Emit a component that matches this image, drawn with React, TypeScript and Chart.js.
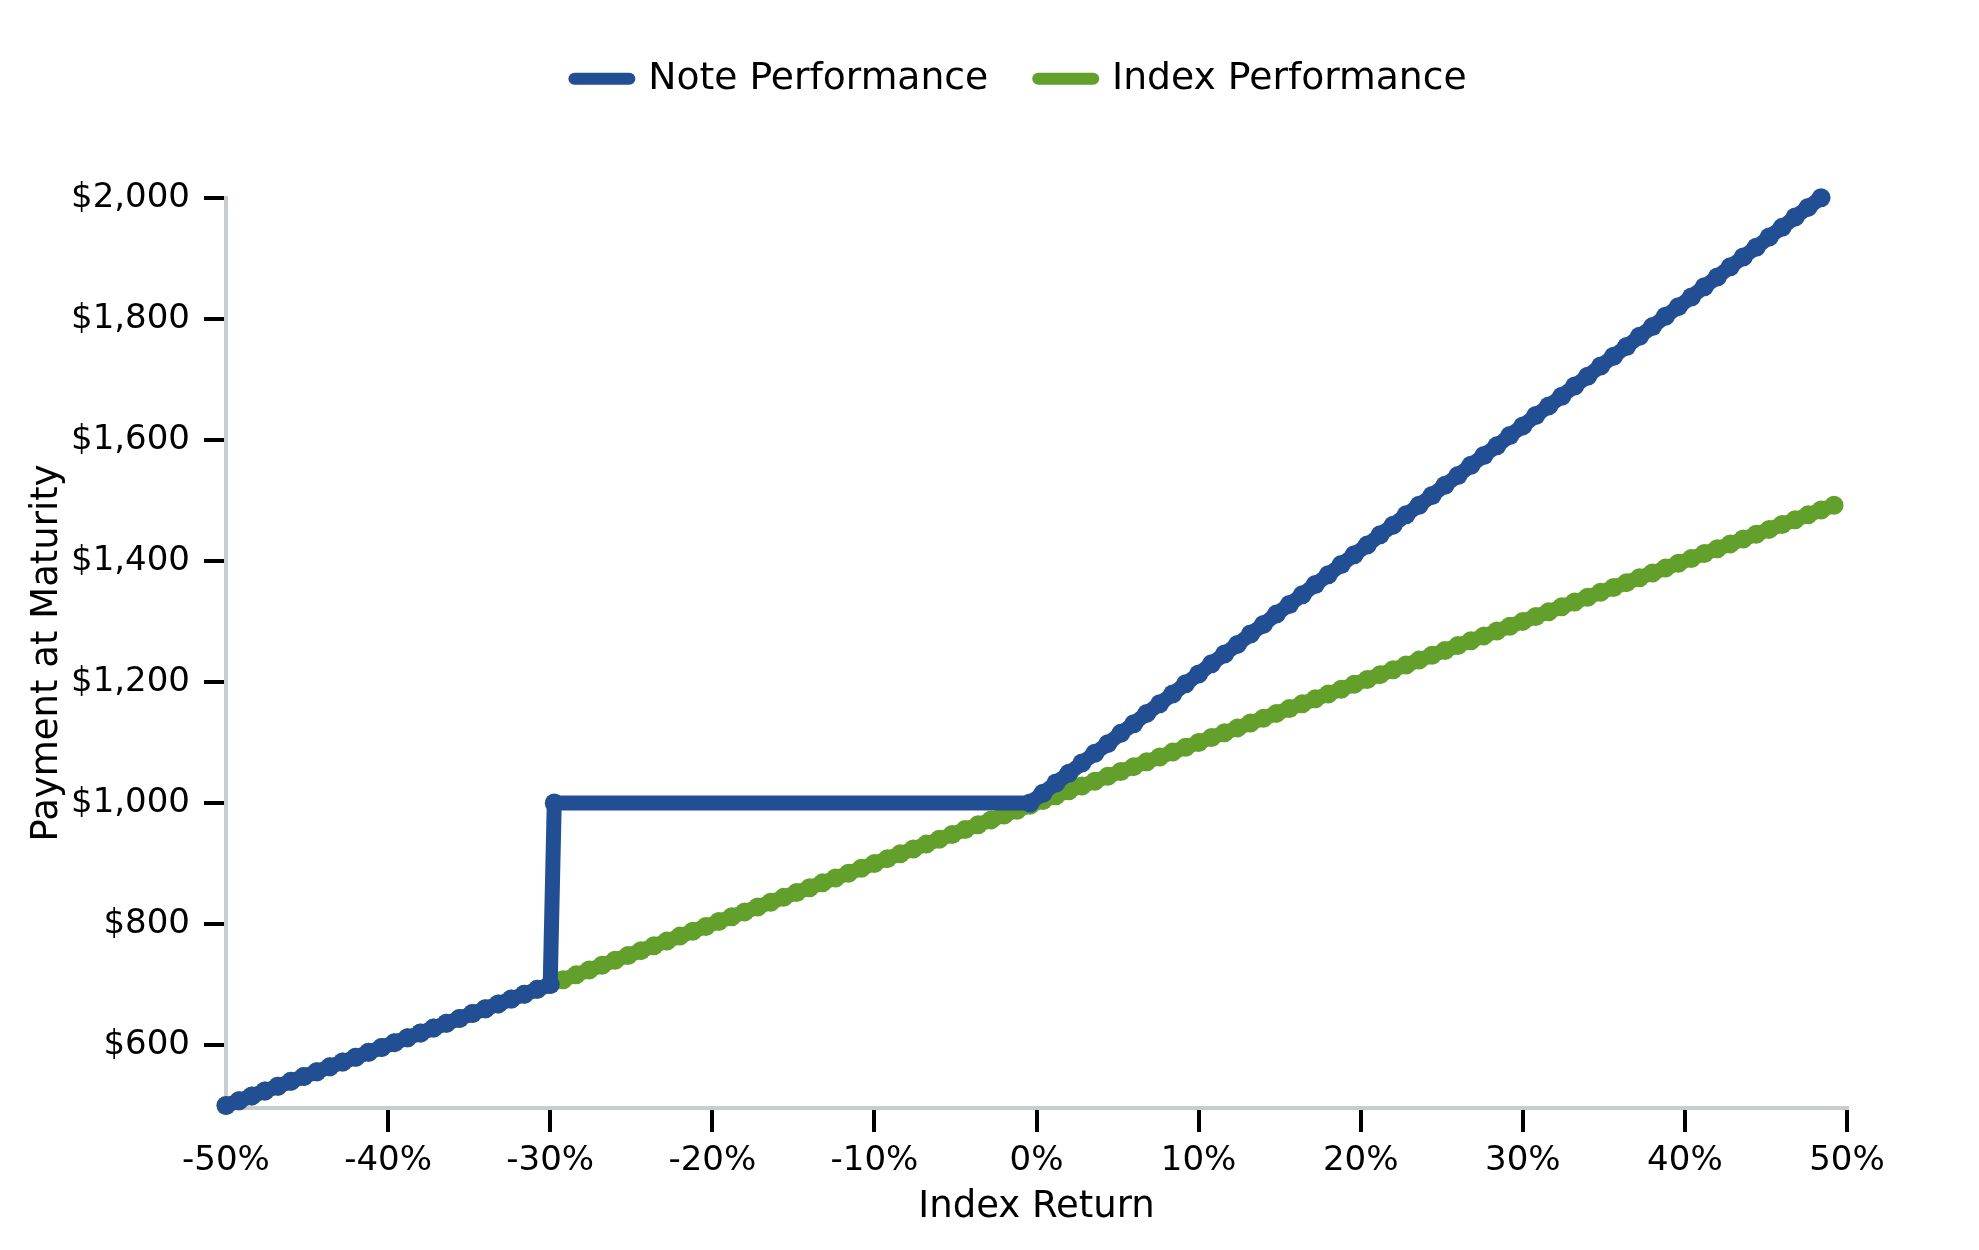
import React, { useEffect, useRef } from 'react';
import { Chart, registerables } from 'chart.js';

Chart.register(...registerables);

// Index return (%) at each plotted point
const indexReturns = [
  -50, -49.2, -48.4, -47.6, -46.8, -46, -45.2, -44.4, -43.6, -42.8,
  -42, -41.2, -40.4, -39.6, -38.8, -38, -37.2, -36.4, -35.6, -34.8,
  -34, -33.2, -32.4, -31.6, -30.8, -30, -29.2, -28.4, -27.6, -26.8,
  -26, -25.2, -24.4, -23.6, -22.8, -22, -21.2, -20.4, -19.6, -18.8,
  -18, -17.2, -16.4, -15.6, -14.8, -14, -13.2, -12.4, -11.6, -10.8,
  -10, -9.2, -8.4, -7.6, -6.8, -6, -5.2, -4.4, -3.6, -2.8,
  -2, -1.2, -0.4, 0.4, 1.2, 2, 2.8, 3.6, 4.4, 5.2,
  6, 6.8, 7.6, 8.4, 9.2, 10, 10.8, 11.6, 12.4, 13.2,
  14, 14.8, 15.6, 16.4, 17.2, 18, 18.8, 19.6, 20.4, 21.2,
  22, 22.8, 23.6, 24.4, 25.2, 26, 26.8, 27.6, 28.4, 29.2,
  30, 30.8, 31.6, 32.4, 33.2, 34, 34.8, 35.6, 36.4, 37.2,
  38, 38.8, 39.6, 40.4, 41.2, 42, 42.8, 43.6, 44.4, 45.2,
  46, 46.8, 47.6, 48.4, 49.2,
];

const indexPayments = [
  500, 508, 516, 524, 532, 540, 548, 556, 564, 572,
  580, 588, 596, 604, 612, 620, 628, 636, 644, 652,
  660, 668, 676, 684, 692, 700, 708, 716, 724, 732,
  740, 748, 756, 764, 772, 780, 788, 796, 804, 812,
  820, 828, 836, 844, 852, 860, 868, 876, 884, 892,
  900, 908, 916, 924, 932, 940, 948, 956, 964, 972,
  980, 988, 996, 1004, 1012, 1020, 1028, 1036, 1044, 1052,
  1060, 1068, 1076, 1084, 1092, 1100, 1108, 1116, 1124, 1132,
  1140, 1148, 1156, 1164, 1172, 1180, 1188, 1196, 1204, 1212,
  1220, 1228, 1236, 1244, 1252, 1260, 1268, 1276, 1284, 1292,
  1300, 1308, 1316, 1324, 1332, 1340, 1348, 1356, 1364, 1372,
  1380, 1388, 1396, 1404, 1412, 1420, 1428, 1436, 1444, 1452,
  1460, 1468, 1476, 1484, 1492,
];

// Note: follows the index down to -30%, then a flat $1,000 run up to ~0%
const noteReturns = [
  -50, -49.2, -48.4, -47.6, -46.8, -46, -45.2, -44.4, -43.6, -42.8,
  -42, -41.2, -40.4, -39.6, -38.8, -38, -37.2, -36.4, -35.6, -34.8,
  -34, -33.2, -32.4, -31.6, -30.8, -30, -29.75, -0.4,
  0.4, 1.2, 2, 2.8, 3.6, 4.4, 5.2,
  6, 6.8, 7.6, 8.4, 9.2, 10, 10.8, 11.6, 12.4, 13.2,
  14, 14.8, 15.6, 16.4, 17.2, 18, 18.8, 19.6, 20.4, 21.2,
  22, 22.8, 23.6, 24.4, 25.2, 26, 26.8, 27.6, 28.4, 29.2,
  30, 30.8, 31.6, 32.4, 33.2, 34, 34.8, 35.6, 36.4, 37.2,
  38, 38.8, 39.6, 40.4, 41.2, 42, 42.8, 43.6, 44.4, 45.2,
  46, 46.8, 47.6, 48.4,
];

const notePayments = [
  500, 508, 516, 524, 532, 540, 548, 556, 564, 572,
  580, 588, 596, 604, 612, 620, 628, 636, 644, 652,
  660, 668, 676, 684, 692, 700, 1000, 1000,
  1016, 1033, 1049, 1066, 1082, 1098, 1115,
  1131, 1148, 1164, 1180, 1197, 1213, 1230, 1246, 1262, 1279,
  1295, 1312, 1328, 1344, 1361, 1377, 1394, 1410, 1426, 1443,
  1459, 1476, 1492, 1508, 1525, 1541, 1558, 1574, 1590, 1607,
  1623, 1640, 1656, 1672, 1689, 1705, 1722, 1738, 1754, 1771,
  1787, 1804, 1820, 1836, 1853, 1869, 1886, 1902, 1918, 1935,
  1951, 1968, 1984, 2000,
];

const seriesNames = ['Note Performance', 'Index Performance'];
const seriesColors = ['#224f93', '#62a02b'];

const FONT = 'DejaVu Sans';

const App: React.FC = () => {
  const canvasRef = useRef<HTMLCanvasElement | null>(null);
  const chartRef = useRef<Chart | null>(null);

  useEffect(() => {
    if (!canvasRef.current) return;

    const lineStyle = (color: string) => ({
      borderColor: color,
      backgroundColor: color,
      borderWidth: 15,
      borderJoinStyle: 'round' as const,
      borderCapStyle: 'round' as const,
      pointRadius: 9.5,
      pointBorderWidth: 0,
      pointBackgroundColor: color,
      pointHoverRadius: 9.5,
      tension: 0,
      clip: false as const,
    });

    // extra room under the legend, and nudge it to where the reference has it
    const legendPlacer = {
      id: 'legendPlacer',
      beforeInit(chart: any) {
        const fit = chart.legend.fit;
        chart.legend.fit = function () {
          fit.bind(chart.legend)();
          this.height += 70;
        };
      },
      afterLayout(chart: any) {
        const lg = chart.legend;
        lg.left += 97;
        lg.right += 97;
        lg.top -= 20;
      },
    };

    chartRef.current?.destroy();
    chartRef.current = new Chart(canvasRef.current, {
      type: 'line',
      data: {
        datasets: [
          {
            label: seriesNames[0],
            data: noteReturns.map((x, i) => ({ x, y: notePayments[i] })),
            ...lineStyle(seriesColors[0]),
          },
          {
            label: seriesNames[1],
            data: indexReturns.map((x, i) => ({ x, y: indexPayments[i] })),
            ...lineStyle(seriesColors[1]),
          },
        ],
      },
      options: {
        animation: false,
        responsive: true,
        maintainAspectRatio: false,
        layout: { padding: { top: 30, right: 132, bottom: 0, left: 0 } },
        plugins: {
          tooltip: { enabled: false },
          legend: {
            position: 'top',
            labels: {
              font: { family: FONT, size: 37.7 },
              color: '#000',
              usePointStyle: true,
              pointStyleWidth: 55,
              padding: 50,
              generateLabels: () =>
                seriesNames.map((text, i) => ({
                  text,
                  fillStyle: seriesColors[i],
                  strokeStyle: seriesColors[i],
                  lineWidth: 12,
                  lineCap: 'round',
                  pointStyle: 'line',
                  hidden: false,
                  datasetIndex: i,
                })),
            },
          },
        },
        scales: {
          x: {
            type: 'linear',
            min: -50,
            max: 50,
            afterFit: (scale: any) => {
              scale.height = 142;
            },
            border: { display: true, color: '#c8ccd1', width: 4 },
            grid: {
              drawOnChartArea: false,
              drawTicks: true,
              tickLength: 24,
              lineWidth: 4,
              color: (ctx: any) => (ctx.tick && ctx.tick.value === -50 ? 'rgba(0,0,0,0)' : '#000'),
            },
            ticks: {
              stepSize: 10,
              color: '#000',
              font: { family: FONT, size: 34 },
              padding: 9,
              maxRotation: 0,
              callback: (v: any) => `${v}%`,
            },
            title: {
              display: true,
              text: 'Index Return',
              color: '#000',
              font: { family: FONT, size: 37 },
              padding: { top: 0, bottom: 20 },
            },
          },
          y: {
            type: 'linear',
            min: 496,
            max: 2000,
            afterFit: (scale: any) => {
              scale.width = 226;
            },
            border: { display: true, color: '#c8ccd1', width: 4 },
            grid: {
              drawOnChartArea: false,
              drawTicks: true,
              tickLength: 22,
              lineWidth: 4,
              color: '#000',
            },
            ticks: {
              stepSize: 200,
              includeBounds: false,
              color: '#000',
              font: { family: FONT, size: 34 },
              padding: 14,
              callback: (v: any) => `$${Number(v).toLocaleString('en-US')}`,
            },
            title: {
              display: true,
              text: 'Payment at Maturity',
              color: '#000',
              font: { family: FONT, size: 37 },
              padding: { top: 25, bottom: 0 },
            },
          },
        },
      },
      plugins: [legendPlacer],
    });

    return () => {
      chartRef.current?.destroy();
      chartRef.current = null;
    };
  }, []);

  return (
    <div style={{ position: 'fixed', left: 0, top: 0, width: 1979, height: 1250, background: '#fff' }}>
      <canvas ref={canvasRef} />
    </div>
  );
};

export default App;
